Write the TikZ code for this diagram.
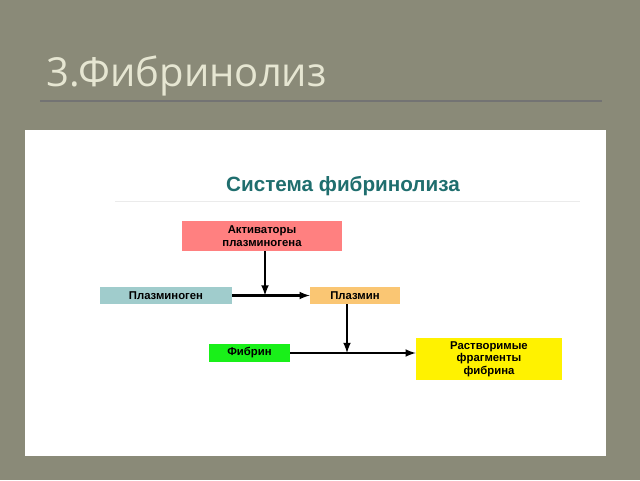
\documentclass[tikz,border=0pt]{standalone}
\usepackage{fontspec}
\setmainfont{Liberation Sans}
\newfontfamily\titlefont{Open Sans}
\definecolor{bgc}{HTML}{8A8A78}
\definecolor{ttl}{HTML}{E6E6D2}
\definecolor{teal}{HTML}{1F6E6E}
\begin{document}
\begin{tikzpicture}[x=0.75pt,y=-0.75pt,
  box/.style={inner sep=0pt,align=center,font=\bfseries\fontsize{8.5}{9.5}\selectfont,text=black},
  arr/.style={-latex,line width=1.6pt}]
\fill[bgc] (0,0) rectangle (640,480);
\useasboundingbox (0,0) rectangle (640,480);
\node[anchor=base west,text=ttl,font=\titlefont\fontsize{30}{34}\selectfont] (t) at (42,86) {3.Фибринолиз};
\draw[line width=0.8pt,color=black!55] (40,101) -- (602,101);
\fill[white] (25,130) rectangle (606,456);
\draw[black!8] (115,201) -- (580,201);
\node[text=teal,font=\bfseries\fontsize{15.5}{18}\selectfont] (h) at (343,186) {Система фибринолиза};
\node[box,fill={rgb,255:red,255;green,128;blue,128},minimum width=120pt,minimum height=22.5pt] (a) at (262,236) {Активаторы\\плазминогена};
\node[box,fill={rgb,255:red,160;green,204;blue,204},minimum width=99pt,minimum height=13pt] (p) at (166,295.5) {Плазминоген};
\node[box,fill={rgb,255:red,250;green,198;blue,115},minimum width=67.5pt,minimum height=13pt] (m) at (355,295.5) {Плазмин};
\node[box,fill={rgb,255:red,25;green,240;blue,25},minimum width=61pt,minimum height=13.5pt] (f) at (249.5,353) {Фибрин};
\node[box,fill=yellow,minimum width=109.5pt,minimum height=31.5pt] (r) at (489,359) {Растворимые\\фрагменты\\фибрина};
\coordinate (j1) at (265,295.5);
\coordinate (j2) at (347,353);
\draw[arr] (p.east) -- (m.west);
\draw[arr] (a.south -| j1) -- (j1);
\draw[arr] (f.east) -- (r.west |- f.east);
\draw[arr] (m.south -| j2) -- (j2);
\end{tikzpicture}
\end{document}
